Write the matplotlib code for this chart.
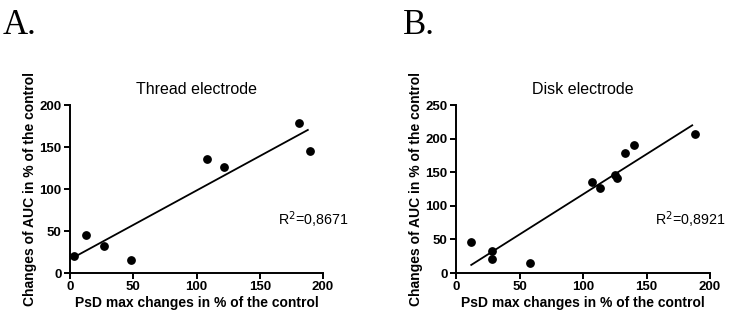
import numpy as np
import matplotlib
matplotlib.use("Agg")
import matplotlib.pyplot as plt

plt.rcParams["font.family"] = ["Liberation Sans", "DejaVu Sans"]

# Panel A - thread electrode
thread_x = [3, 13, 27, 48, 108, 122, 181, 190]
thread_y = [20, 45, 32, 15, 136, 126, 178, 145]
thread_r2 = "0,8671"

# Panel B - disk electrode
disk_x = [12, 28, 28, 58, 107, 113, 125, 127, 133, 140, 188]
disk_y = [46, 32, 21, 15, 136, 126, 146, 142, 178, 190, 207]
disk_r2 = "0,8921"

xticks = [0, 50, 100, 150, 200]
thread_yticks = [0, 50, 100, 150, 200]
disk_yticks = [0, 50, 100, 150, 200, 250]

fig = plt.figure(figsize=(7.46, 3.18), dpi=100)


def panel(rect, x, y, yticks, title, r2, letter, letter_x, r2_x):
    ax = fig.add_axes(rect)
    ax.scatter(x, y, s=28, color="black", zorder=3, clip_on=False)
    k, b = np.polyfit(x, y, 1)
    xs = np.array([min(x), max(x) - 2])
    ax.plot(xs, k * xs + b, color="black", lw=1.3)
    ax.set_xlim(0, 200)
    ax.set_ylim(0, yticks[-1])
    ax.set_xticks(xticks)
    ax.set_yticks(yticks)
    for s in ["top", "right"]:
        ax.spines[s].set_visible(False)
    for s in ["left", "bottom"]:
        ax.spines[s].set_linewidth(1.4)
    ax.tick_params(width=1.4, length=4, labelsize=9.5, pad=2)
    for lab in ax.get_xticklabels() + ax.get_yticklabels():
        lab.set_fontweight("bold")
    ax.set_xlabel("PsD max changes in % of the control", fontsize=10,
                  fontweight="bold", labelpad=2)
    ax.set_ylabel("Changes of AUC in % of the control", fontsize=10,
                  fontweight="bold", labelpad=2)
    ax.set_title(title, fontsize=11.5, pad=8)
    fig.text(r2_x, 1 - 220 / 318, "R$^2$=" + r2, fontsize=10.3, va="center")
    fig.text(letter_x, 1 - 25 / 318, letter, fontsize=25,
             family=["Liberation Serif", "DejaVu Serif"], va="center")
    return ax


panel([70 / 746, 45 / 318, 253 / 746, 168 / 318], thread_x, thread_y,
      thread_yticks, "Thread electrode", thread_r2, "A.", 3 / 746, 278 / 746)
panel([456 / 746, 45 / 318, 254 / 746, 168 / 318], disk_x, disk_y,
      disk_yticks, "Disk electrode", disk_r2, "B.", 403 / 746, 655 / 746)

fig.savefig("out.png", dpi=100)
